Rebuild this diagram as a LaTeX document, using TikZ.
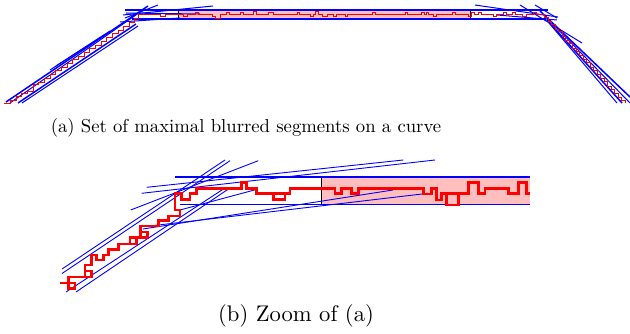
\documentclass[tikz,border=0pt]{standalone}
\begin{document}
\begin{tikzpicture}[x=1pt,y=-1pt,
  blueA/.style={draw=blue,line width=1pt},
  bandA/.style={draw=blue,line width=1.5pt},
  redA/.style={draw=red,line width=0.8pt,line join=miter},
  blueB/.style={draw=blue,line width=0.9pt},
  bandB/.style={draw=blue,line width=1.3pt},
  redB/.style={draw=red,line width=2.6pt,line join=miter},
  pinkbox/.style={fill=red!25,draw=none},
  edgeline/.style={draw=black,line width=0.5pt},
  caption/.style={inner sep=0pt,text=black}]
\useasboundingbox (0,0) rectangle (630,334);

% ================= (a) =================
\fill[pinkbox] (178,10) rectangle (470,19);
\coordinate (ra1) at (178,10); \coordinate (ra2) at (178,19);
\coordinate (ra3) at (470,10); \coordinate (ra4) at (470,19);
\draw[edgeline] (ra1) -- (ra2);
\draw[edgeline] (ra3) -- (ra4);

% band lines
\coordinate (at1) at (125,10); \coordinate (at2) at (548,10);
\coordinate (ab1) at (132,19); \coordinate (ab2) at (546,19);
\draw[bandA] (at1) -- (at2);
\draw[bandA] (ab1) -- (ab2);

% left diagonal lines
\coordinate (a1s) at (6,102);  \coordinate (a1e) at (148,6);
\coordinate (a2s) at (10,103); \coordinate (a2e) at (143,10);
\coordinate (a3s) at (18,103); \coordinate (a3e) at (136,24);
\coordinate (a4s) at (22,103); \coordinate (a4e) at (138,26);
\coordinate (a5s) at (50,70);  \coordinate (a5e) at (110,31);
\coordinate (a6s) at (56,66);  \coordinate (a6e) at (104,35);
\coordinate (a7s) at (123,15); \coordinate (a7e) at (213,6);
\coordinate (a8s) at (125,18); \coordinate (a8e) at (158,5);
\coordinate (a9s) at (120,22); \coordinate (a9e) at (180,18);
\coordinate (a10s) at (126,13); \coordinate (a10e) at (200,14);
\draw[bandA] (a1s) -- (a1e);
\draw[blueA] (a2s) -- (a2e);
\draw[bandA] (a3s) -- (a3e);
\draw[blueA] (a4s) -- (a4e);
\draw[blueA] (a5s) -- (a5e);
\draw[blueA] (a6s) -- (a6e);
\draw[blueA] (a7s) -- (a7e);
\draw[blueA] (a8s) -- (a8e);
\draw[blueA] (a9s) -- (a9e);
\draw[blueA] (a10s) -- (a10e);

% right diagonal lines
\coordinate (b1s) at (475,5);  \coordinate (b1e) at (558,17);
\coordinate (b2s) at (520,5);  \coordinate (b2e) at (582,43);
\coordinate (b3s) at (535,5);  \coordinate (b3e) at (557,18);
\coordinate (b4s) at (497,15); \coordinate (b4e) at (557,20);
\coordinate (b5s) at (540,11); \coordinate (b5e) at (630,97);
\coordinate (b6s) at (545,16); \coordinate (b6e) at (630,103);
\coordinate (b7s) at (547,20); \coordinate (b7e) at (622,103);
\coordinate (b8s) at (549,23); \coordinate (b8e) at (617,103);
\draw[blueA] (b1s) -- (b1e);
\draw[blueA] (b2s) -- (b2e);
\draw[blueA] (b3s) -- (b3e);
\draw[blueA] (b4s) -- (b4e);
\draw[bandA] (b5s) -- (b5e);
\draw[blueA] (b6s) -- (b6e);
\draw[bandA] (b7s) -- (b7e);
\draw[blueA] (b8s) -- (b8e);

% red curve (a)
\draw[redA] (4,103) -| (10,100) -| (16,96) -| (21,93) -| (27,91) -| (33,84) -| (38,82) -| (44,78) -| (50,74) -| (55,70) -| (61,67) -| (67,63) -| (72,59) -| (78,56) -| (84,52) -| (89,48) -| (95,45) -| (101,41) -| (106,37) -| (112,33) -| (118,30) -| (123,26) -| (129,22) -| (134,18) -| (138,14.5)
 -- (160,14.5)--(160,16.5)--(165,16.5)--(165,14.5)
 -- (183,14.5)--(183,16.5)--(187,16.5)--(187,14.5)
 -- (195,14.5)--(195,12.5)--(198,12.5)--(198,14.5)
 -- (212,14.5)--(212,16.5)--(215,16.5)--(215,18.5)--(220,18.5)--(220,14.5)
 -- (226,14.5)--(226,12)--(229,12)--(229,14.5)
 -- (240,14.5)--(240,12)--(243,12)--(243,14.5)
 -- (253,14.5)--(253,11.5)--(256,11.5)--(256,14.5)
 -- (268,14.5)--(268,12)--(273,12)--(273,14.5)
 -- (297,14.5)--(297,12)--(299,12)--(299,14.5)
 -- (310,14.5)--(310,16)--(313,16)--(313,14.5)
 -- (315,14.5)--(315,11.5)--(318,11.5)--(318,14.5)
 -- (322,14.5)--(322,16)--(327,16)--(327,14.5)
 -- (333,14.5)--(333,16)--(336,16)--(336,14.5)
 -- (345,14.5)--(345,16)--(347,16)--(347,14.5)
 -- (372,14.5)--(372,12)--(375,12)--(375,14.5)
 -- (405,14.5)--(405,12)--(407,12)--(407,14.5)
 -- (421,14.5)--(421,12)--(424,12)--(424,14.5)--(426,14.5)--(426,12)--(428,12)--(428,14.5)
 -- (433,14.5)--(433,16)--(436,16)--(436,14.5)
 -- (452,14.5)--(452,12.5)--(455,12.5)--(455,14.5)
 -- (468,14.5)--(468,16.5)--(471,16.5)--(471,12)--(474,12)--(474,14.5)
 -- (478,14.5)--(478,12)--(481,12)--(481,14.5)
 -- (493,14.5)--(493,16.5)--(496,16.5)--(496,14.5)
 -- (503,14.5)--(503,12)--(506,12)--(506,14.5)
 -- (512,14.5)--(512,12)--(515,12)--(515,14.5)
 -- (522,14.5)--(522,16.5)--(526,16.5)--(526,14.5)
 -- (533,14.5)--(533,12)--(536,12)--(536,14.5)
 -- (544,14.5) -- (544,17)
 -| (548,21) -| (551,24) -| (555,29) -| (558,31) -| (562,36) -| (565,40) -| (569,43) -| (572,48) -| (576,51) -| (579,55) -| (583,59) -| (586,62) -| (590,67) -| (593,70) -| (597,74) -| (600,78) -| (604,81) -| (607,86) -| (611,89) -| (614,93) -| (618,97) -| (621,100) -| (625,103);

\node[caption] (capa) at (246,128) {\scalebox{1.87}{(a) Set of maximal blurred segments on a curve}};

% ================= (b) =================
\fill[pinkbox] (321.5,177) rectangle (530,204.3);
\coordinate (rb1) at (321.5,177); \coordinate (rb2) at (321.5,204.3);
\draw[edgeline] (rb1) -- (rb2);

\coordinate (bt1) at (175,177);   \coordinate (bt2) at (530,177);
\coordinate (bb1) at (180,204.3); \coordinate (bb2) at (530,204.3);
\draw[bandB] (bt1) -- (bt2);
\draw[bandB] (bb1) -- (bb2);

\coordinate (l1s) at (62,269);    \coordinate (l1e) at (225,160);
\coordinate (l2s) at (62,273.5);  \coordinate (l2e) at (230,160.7);
\coordinate (l3s) at (66,292);    \coordinate (l3e) at (223,189.3);
\coordinate (l4s) at (76,292);    \coordinate (l4e) at (228,189.3);
\coordinate (l5s) at (130.7,210); \coordinate (l5e) at (258.3,160.7);
\coordinate (l6s) at (141.7,193.3); \coordinate (l6e) at (435,160);
\coordinate (l7s) at (146.7,187.3); \coordinate (l7e) at (403.3,160);
\coordinate (l8s) at (143,229);   \coordinate (l8e) at (393,190);
\coordinate (l9s) at (150,226);   \coordinate (l9e) at (428,193.3);
\coordinate (l10s) at (180,210);  \coordinate (l10e) at (257,189.3);
\foreach \n in {1,...,10} {\draw[blueB] (l\n s) -- (l\n e);}

\draw[redB] (60,283) -- (75,283) -- (75,288.5) -- (68.5,288.5) -- (68.5,277) -- (91.7,277) -- (91.7,271) -- (85,271) -- (85,277) -- (85,265) -- (91.7,265) -- (91.7,255) -- (96.7,255) -- (96.7,260) -- (103.3,260) -- (103.3,255) -- (108.3,255) -- (108.3,249.3) -- (118.3,249.3) -- (118.3,244) -- (136.7,244) -- (136.7,237.3) -- (130,237.3) -- (130,244) -- (130,237.3) -- (147.3,237.3) -- (147.3,232) -- (140.7,232) -- (140.7,237.3) -- (140.7,226) -- (158.3,226) -- (158.3,220.7) -- (168.3,220.7) -- (168.3,216) -- (180,216) -- (180,210) -- (175,210) -- (175,193.5) -- (181.7,193.5) -- (181.7,199.5) -- (190,199.5) -- (190,193.5) -- (196.7,193.5) -- (196.7,188.3)
 -- (241.7,188.3) -- (241.7,182.5) -- (246.7,182.5) -- (246.7,188.3) -- (256.7,188.3) -- (256.7,193.5) -- (268.3,193.5) -- (285,193.5) -- (285,199.3) -- (273.3,199.3) -- (273.3,193.5) -- (290,193.5) -- (290,188.3)
 -- (335,188.3) -- (335,193.5) -- (341.7,193.5) -- (341.7,188.3) -- (351.7,188.3) -- (351.7,193.5) -- (358.3,193.5) -- (358.3,188.3) -- (423.3,188.3) -- (423.3,194) -- (431.7,194) -- (431.7,188.3) -- (436.7,188.3) -- (436.7,200) -- (441.7,200) -- (441.7,193.3) -- (446.7,193.3) -- (446.7,205) -- (458.3,205) -- (458.3,193.3) -- (446.7,193.3) -- (468.3,193.3) -- (468.3,182.7) -- (478.3,182.7) -- (478.3,193.3) -- (485,193.3) -- (485,188.3) -- (508.3,188.3) -- (508.3,193.3) -- (518.3,193.3) -- (518.3,182.7) -- (526.7,182.7) -- (526.7,193.3) -- (530,193.3);

\node[caption] (capb) at (296,316) {\scalebox{2.26}{(b) Zoom of (a)}};
\end{tikzpicture}
\end{document}
